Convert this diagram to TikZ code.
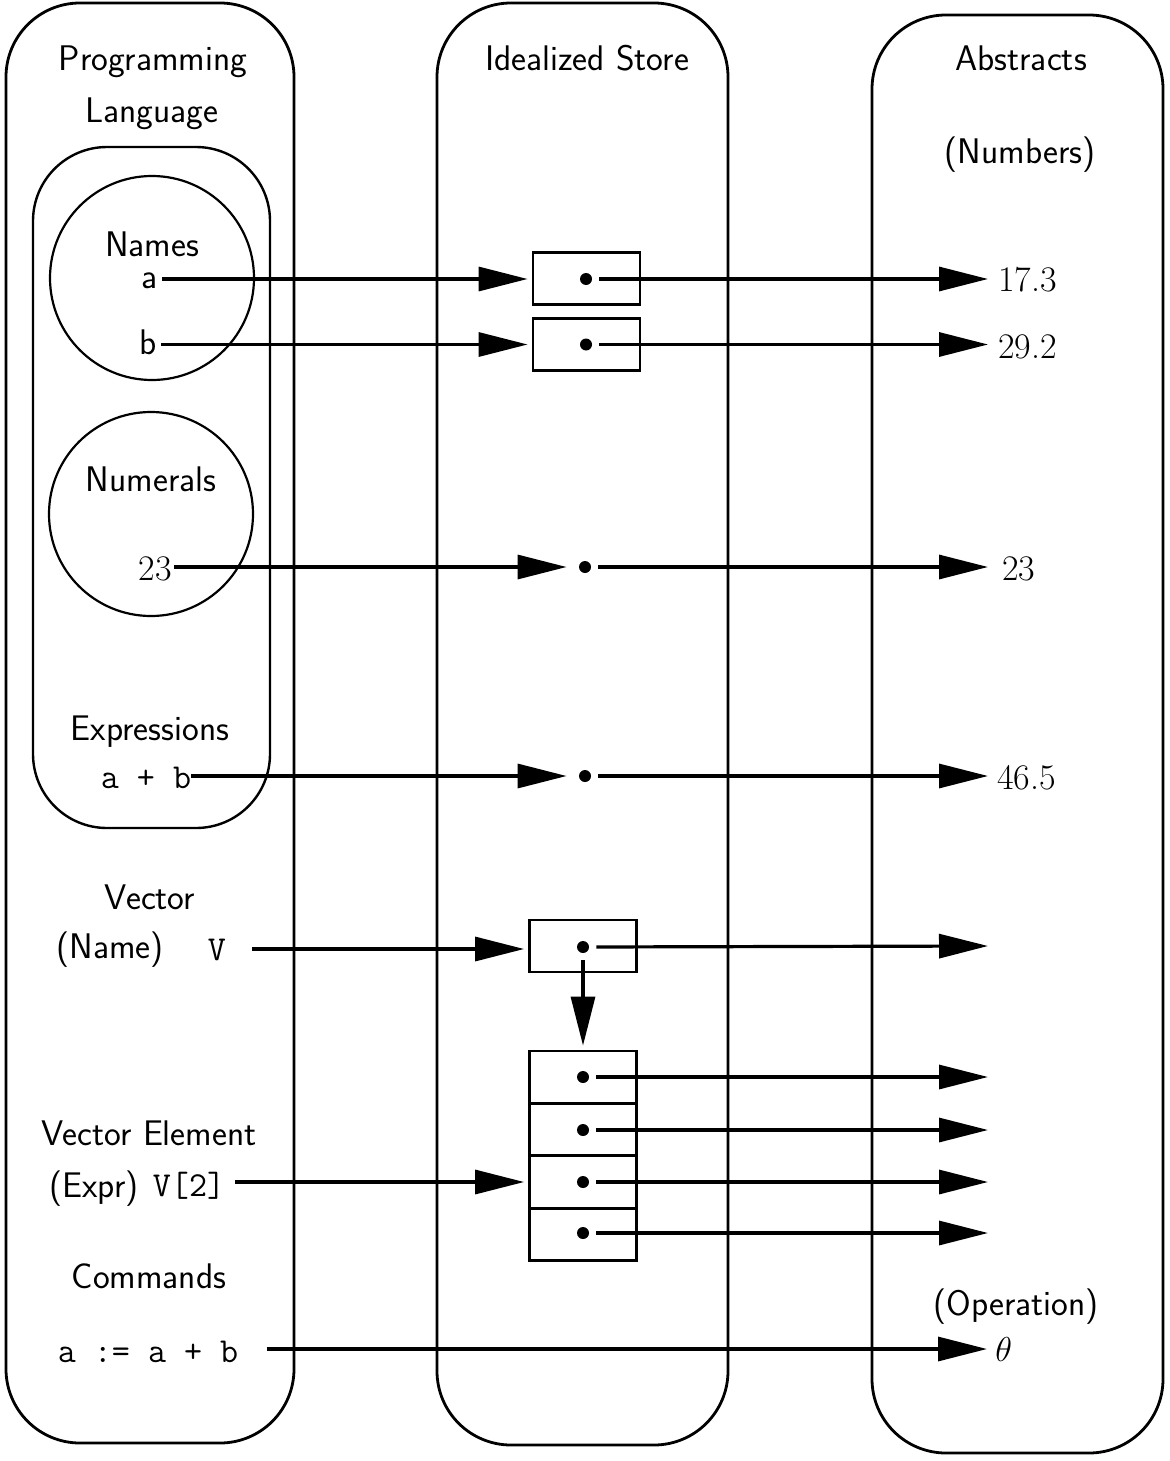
\documentclass[tikz,border=0pt]{standalone}
\usetikzlibrary{arrows.meta}
\begin{document}
\begin{tikzpicture}[x=0.5pt,y=-0.5pt,
  panel/.style={draw, line width=1.4pt, rounded corners=37pt, inner sep=0pt},
  ring/.style={draw, circle, line width=1.1pt, inner sep=0pt, minimum size=102pt},
  sf/.style={font=\fontsize{17.8}{21}\selectfont\sffamily, inner sep=0pt, anchor=base},
  tt/.style={font=\fontsize{17.5}{21}\selectfont\ttfamily, inner sep=0pt, anchor=base},
  num/.style={font=\fontsize{18}{21}\selectfont, inner sep=0pt, anchor=base west},
  cell/.style={draw, line width=1.4pt, inner sep=0pt, minimum width=53.5pt, minimum height=26pt},
  dotn/.style={circle, fill, inner sep=0pt, minimum size=6pt},
  arr/.style={line width=1.6pt, -{Triangle[length=24.5pt,width=12pt]}},
]
\useasboundingbox (0,0) rectangle (1169,1461);

% panels
\node[panel, minimum width=144pt, minimum height=720pt] (pl) at (150,723) {};
\node[panel, minimum width=145.5pt, minimum height=721pt] (pm) at (582.5,724) {};
\node[panel, minimum width=145.5pt, minimum height=719pt] (pr) at (1017.5,734) {};
\node[panel, minimum width=118.5pt, minimum height=340.5pt, line width=1.2pt] (pe) at (151.5,487.5) {};
\node[ring] (cn) at (152,278) {};
\node[ring] (cu) at (151,514) {};

% titles
\node[sf] (t1) at (153,71) {Programming};
\node[sf] (t2) at (152,123) {Language};
\node[sf] (t3) at (587,71) {Idealized Store};
\node[sf] (t4) at (1021,71) {Abstracts};
\node[sf] (t5) at (1020,163) {(Numbers)};
\node[sf] (t6) at (152,256) {Names};
\node[sf] (t7) at (151,491) {Numerals};
\node[sf] (t8) at (150,740) {Expressions};
\node[sf] (t9) at (150,909) {Vector};
\node[sf] (t10) at (110,958) {(Name)};
\node[sf] (t11) at (149,1145) {Vector Element};
\node[sf] (t12) at (94,1197) {(Expr)};
\node[sf] (t13) at (149,1288) {Commands};
\node[sf] (t14) at (1016,1315) {(Operation)};

% left items
\node[sf] (a) at (150,288) {a};
\node[sf] (b) at (148,354) {b};
\node[num, anchor=base] (n23) at (155,580) {23};
\node[tt] (ab) at (146,788) {a + b};
\node[tt] (v) at (217,960) {V};
\node[tt] (v2) at (189,1196) {V[2]};
\node[tt] (cmd) at (148,1362) {a := a + b};

% store
\node[cell] (bx1) at (586.5,278.5) {};
\node[cell] (bx2) at (586.5,344.5) {};
\node[cell] (bxv) at (583,946) {};
\node[cell] (c1) at (583,1077) {};
\node[cell] (c2) at (583,1129.5) {};
\node[cell] (c3) at (583,1182) {};
\node[cell] (c4) at (583,1234.5) {};
\node[dotn] (d1) at (586,279) {};
\node[dotn] (d2) at (586,344.5) {};
\node[dotn] (d3) at (585,567) {};
\node[dotn] (d4) at (585,776) {};
\node[dotn] (dv) at (583,947) {};
\node[dotn] (e1) at (583,1077) {};
\node[dotn] (e2) at (583,1130) {};
\node[dotn] (e3) at (583,1182) {};
\node[dotn] (e4) at (583,1233) {};

% abstracts
\node[num] (r1) at (998,291) {17.3};
\node[num] (r2) at (998,358) {29.2};
\node[num] (r3) at (1002,580) {23};
\node[num] (r4) at (997,789) {46.5};
\node[num] (th) at (995,1361) {$\theta$};
\coordinate (q1) at (988,946);
\coordinate (q2) at (988,1077);
\coordinate (q3) at (988,1130);
\coordinate (q4) at (988,1182);
\coordinate (q5) at (988,1233);

% connectors left -> store
\draw[arr] ([xshift=2pt]a.east |- d1) -- ([xshift=-2pt]bx1.west |- d1);
\draw[arr] ([xshift=2pt]b.east |- d2) -- ([xshift=-2pt]bx2.west |- d2);
\draw[arr] ([xshift=1pt]n23.east |- d3) -- ([xshift=-6pt]d3.west);
\draw[arr] ([xshift=0pt]ab.east |- d4) -- ([xshift=-6pt]d4.west);
\draw[arr] ([xshift=13pt]v.east |- 0,949) -- ([xshift=-2pt]bxv.west |- 0,949);
\draw[arr] ([xshift=5pt]v2.east |- e3) -- ([xshift=-2pt]c3.west |- e3);
\draw[arr] ([xshift=14pt]cmd.east |- th.west) -- ([xshift=-4pt]th.west);

% store -> abstracts
\draw[arr, shorten <=3.5pt] (d1.east) -- ([xshift=-5pt]d1 -| r1.west);
\draw[arr, shorten <=3.5pt] (d2.east) -- ([xshift=-5pt]d2 -| r2.west);
\draw[arr, shorten <=3.5pt] (d3.east) -- ([xshift=-7pt]d3 -| r3.west);
\draw[arr, shorten <=3.5pt] (d4.east) -- ([xshift=-4.5pt]d4 -| r4.west);
\draw[arr, shorten <=3.5pt] (dv.east) -- (q1);
\draw[arr, shorten <=3.5pt] (e1.east) -- (q2);
\draw[arr, shorten <=3.5pt] (e2.east) -- (q3);
\draw[arr, shorten <=3.5pt] (e3.east) -- (q4);
\draw[arr, shorten <=3.5pt] (e4.east) -- (q5);
\draw[arr, shorten <=3.5pt, shorten >=2pt] (dv.south) -- (c1.north -| dv);
\end{tikzpicture}
\end{document}
